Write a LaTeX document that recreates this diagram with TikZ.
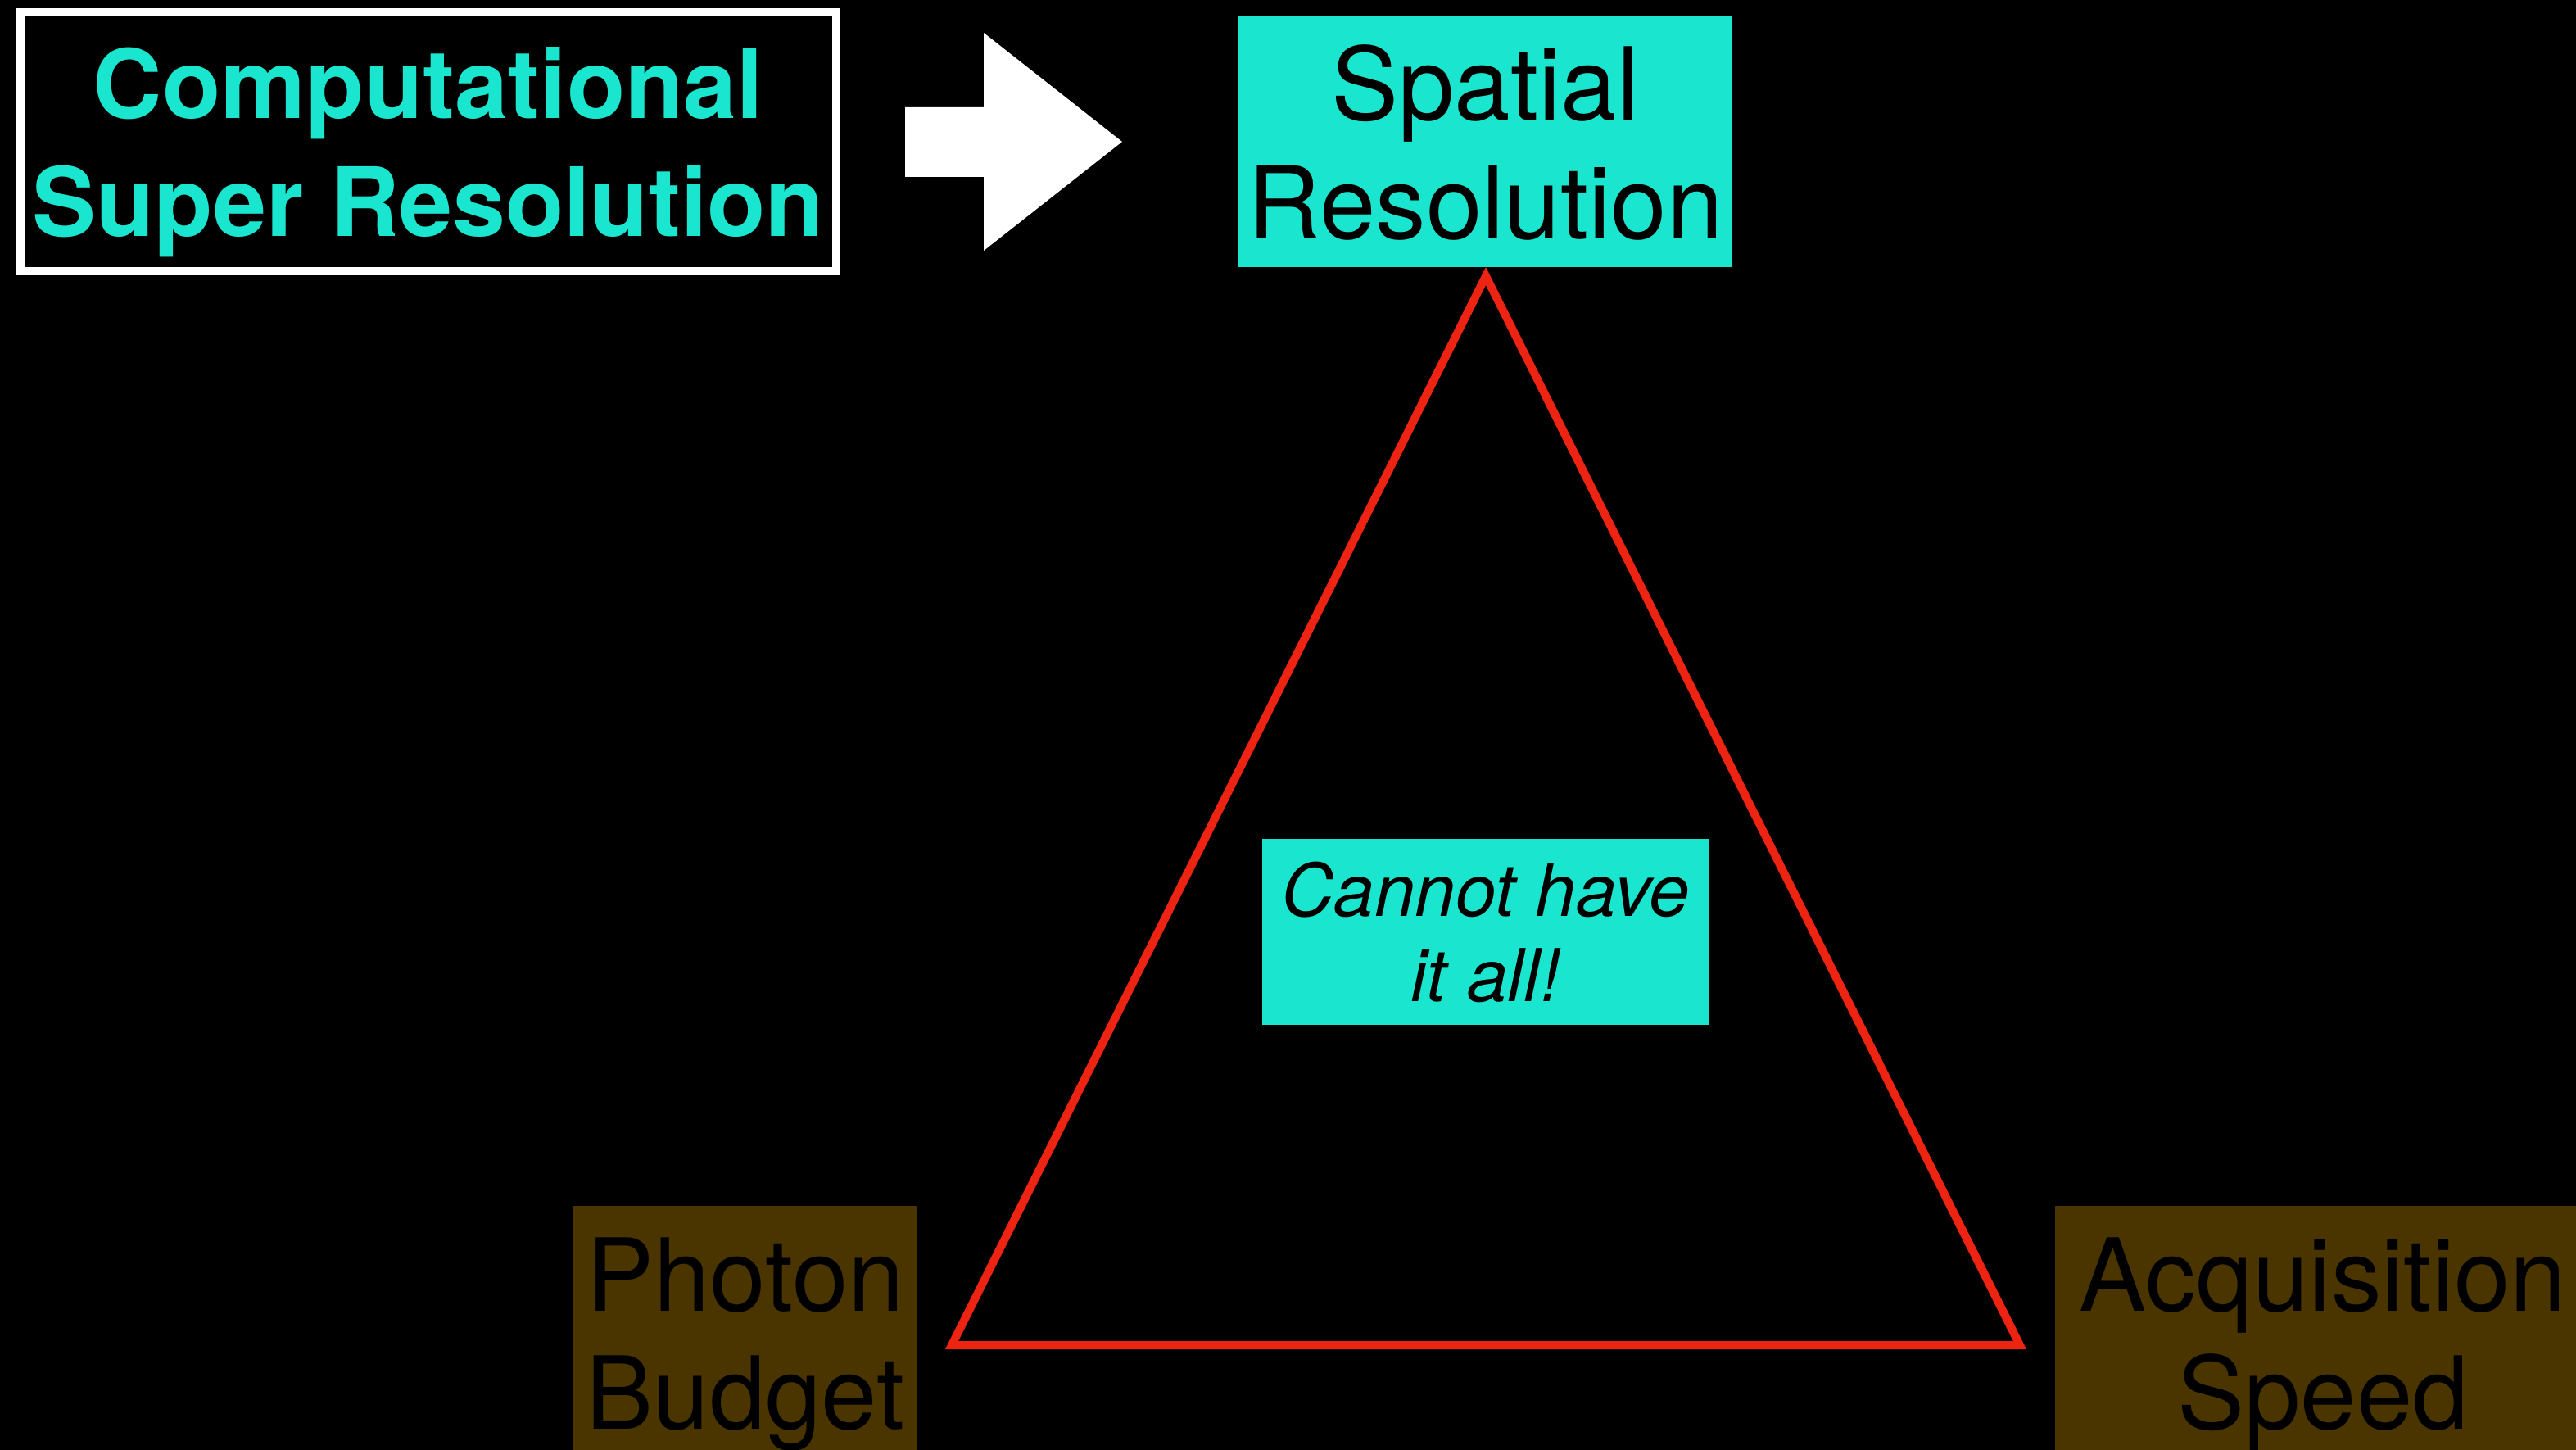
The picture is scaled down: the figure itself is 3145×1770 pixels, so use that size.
\documentclass[tikz,border=0pt]{standalone}
\usepackage{fontspec}
\setmainfont{TeX Gyre Heros}
\usepackage{xcolor}
\definecolor{srCyan}{HTML}{1AE6D0}
\definecolor{srBrown}{HTML}{4A3500}
\definecolor{srRed}{HTML}{EE2412}
\usetikzlibrary{positioning}

\tikzset{
  tagbox/.style={inner sep=0pt, align=center, text depth=0pt, text=black,
    font=\fontsize{35}{41}\selectfont},
  goalbox/.style={tagbox, fill=srCyan},
  costbox/.style={tagbox, fill=srBrown, minimum height=3.11cm},
}

\begin{document}
\begin{tikzpicture}[x=0.01cm, y=-0.01cm]
\useasboundingbox (0,0) rectangle (3145,1770);
\clip (0,0) rectangle (3145,1770);
\fill[black] (0,0) rectangle (3145,1770);

% method and goal
\node[draw=white, line width=0.1cm, inner sep=0pt, align=center, text depth=0pt,
  text=srCyan, font=\bfseries\fontsize{33.2}{40.7}\selectfont,
  minimum width=9.96cm, minimum height=3.16cm] (csr) at (523,173) {Computational\\Super Resolution};
\node[goalbox, minimum width=6.03cm, minimum height=3.06cm] (spatial) at (1813.5,173) {Spatial\\Resolution};

\fill[white] (1105,131) -- (1201,131) -- (1201,40) -- (1370,173)
  -- (1201,306) -- (1201,216) -- (1105,216) -- cycle;

% trade-off triangle
\coordinate (apex) at (1814,337);
\coordinate (left) at (1162,1642);
\coordinate (right) at (2466,1642);
\draw[srRed, line width=0.1cm, line join=miter] (apex) -- (left) -- (right) -- cycle;

\node[goalbox, font=\itshape\fontsize{25.3}{29.6}\selectfont,
  minimum width=5.45cm, minimum height=2.27cm] (tradeoff) at (1813.5,1137.5) {Cannot have\\it all!};

\node[costbox, minimum width=4.2cm] (photon) at (910,1627.5) {Photon\\Budget};
\node[costbox, minimum width=6.54cm] (speed) at (2836,1627.5) {Acquisition\\Speed};
\end{tikzpicture}
\end{document}
